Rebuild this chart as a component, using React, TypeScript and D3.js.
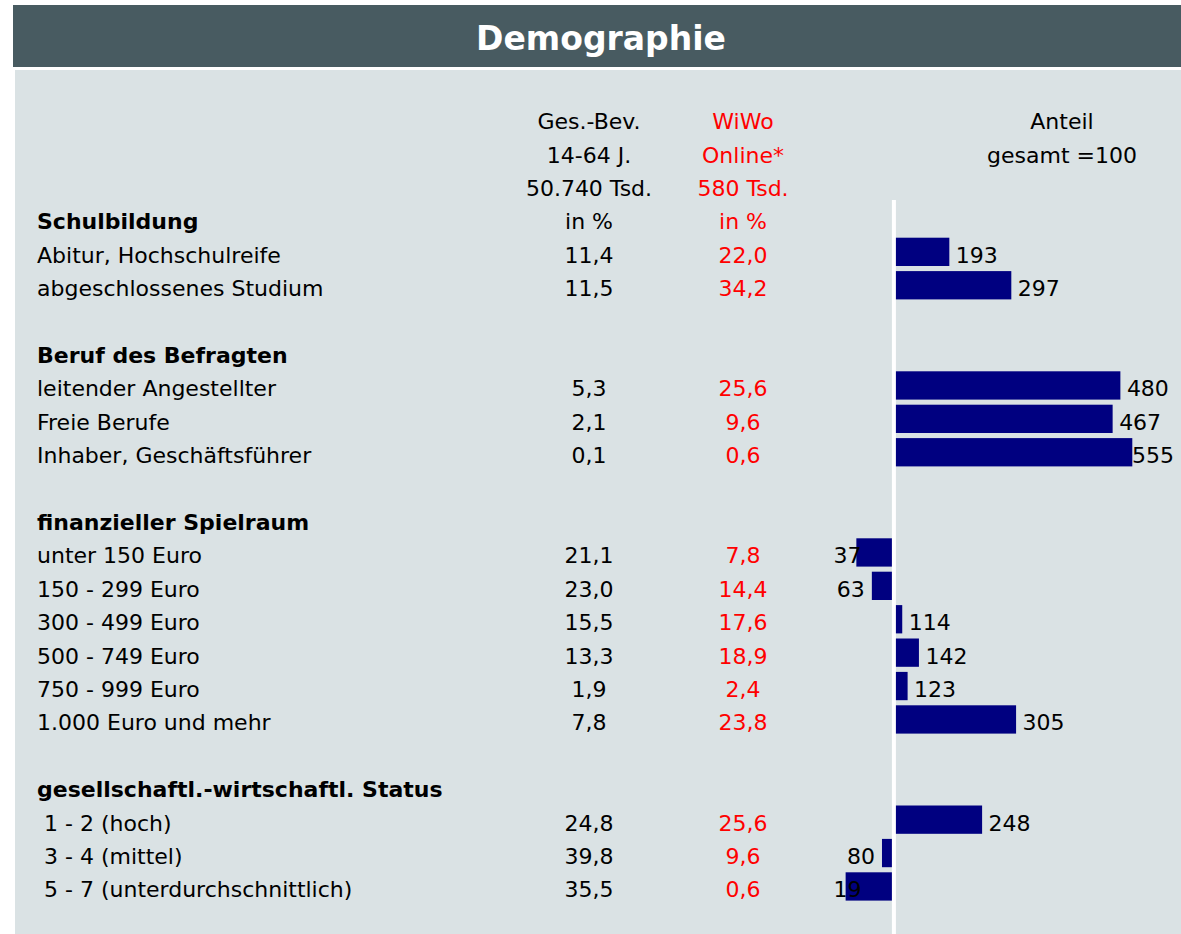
import React from "react";
import * as d3 from "d3";

const title = "Demographie";
const headerGes = ["Ges.-Bev.", "14-64 J.", "50.740 Tsd.", "in %"];
const headerWiwo = ["WiWo", "Online*", "580 Tsd.", "in %"];
const headerAnteil = ["Anteil", "gesamt =100"];

const groups = [
  "Schulbildung",
  "Beruf des Befragten",
  "finanzieller Spielraum",
  "gesellschaftl.-wirtschaftl. Status",
];
const categories = [
  "Abitur, Hochschulreife",
  "abgeschlossenes Studium",
  "leitender Angestellter",
  "Freie Berufe",
  "Inhaber, Geschäftsführer",
  "unter 150 Euro",
  "150 - 299 Euro",
  "300 - 499 Euro",
  "500 - 749 Euro",
  "750 - 999 Euro",
  "1.000 Euro und mehr",
  " 1 - 2 (hoch)",
  " 3 - 4 (mittel)",
  " 5 - 7 (unterdurchschnittlich)",
];
const categoryGroup = [0, 0, 1, 1, 1, 2, 2, 2, 2, 2, 2, 3, 3, 3];
const gesBev = ["11,4", "11,5", "5,3", "2,1", "0,1", "21,1", "23,0", "15,5", "13,3", "1,9", "7,8", "24,8", "39,8", "35,5"];
const wiwo = ["22,0", "34,2", "25,6", "9,6", "0,6", "7,8", "14,4", "17,6", "18,9", "2,4", "23,8", "25,6", "9,6", "0,6"];
const anteil = [193, 297, 480, 467, 555, 37, 63, 114, 142, 123, 305, 248, 80, 19];
const baseline = 100;
const axisDomain = [0, 500];

type Row = { kind: "group" | "item"; text: string; idx: number };

export default function App() {
  const W = 1181;
  const H = 934;
  const font = "'DejaVu Sans', Tahoma, Verdana, sans-serif";
  const fs = 22;

  const rows: Row[] = [];
  groups.forEach((g, gi) => {
    if (gi > 0) rows.push({ kind: "group", text: "", idx: -1 });
    rows.push({ kind: "group", text: g, idx: gi });
    categories.forEach((c, ci) => {
      if (categoryGroup[ci] === gi) rows.push({ kind: "item", text: c, idx: ci });
    });
  });

  const y = d3.scaleLinear().domain([0, rows.length - 1]).range([229.3, 229.3 + 33.4 * (rows.length - 1)]);
  const x = d3.scaleLinear().domain(axisDomain).range([834.3, 1132.3]).clamp(true);
  const x0 = x(baseline);
  const plotLeft = 835;
  const plotRight = 1172;
  const digitW = 13.3;

  const colGes = 589;
  const colWiwo = 743;
  const colAnteil = 1062;

  return (
    <svg
      width={W}
      height={H}
      style={{ position: "absolute", left: 0, top: 0, fontFamily: font }}
    >
      <rect x={0} y={0} width={W} height={H} fill="#ffffff" />
      <rect x={13} y={5} width={W - 13} height={62} fill="#485b61" />
      <text x={601} y={50} textAnchor="middle" fill="#ffffff" fontSize={33} fontWeight="bold">
        {title}
      </text>
      <rect x={15} y={70} width={W - 15} height={H - 70} fill="#dae2e4" />

      {headerGes.map((t, i) => (
        <text key={"hg" + i} x={colGes} y={y(i - 3)} textAnchor="middle" fontSize={fs} fill="#000">
          {t}
        </text>
      ))}
      {headerWiwo.map((t, i) => (
        <text key={"hw" + i} x={colWiwo} y={y(i - 3)} textAnchor="middle" fontSize={fs} fill="#ff0000">
          {t}
        </text>
      ))}
      {headerAnteil.map((t, i) => (
        <text key={"ha" + i} x={colAnteil} y={y(i - 3)} textAnchor="middle" fontSize={fs} fill="#000">
          {t}
        </text>
      ))}

      {rows.map((r, ri) => {
        if (r.kind === "group") {
          return r.text ? (
            <text key={"r" + ri} x={37} y={y(ri)} fontSize={fs} fontWeight="bold" fill="#000">
              {r.text}
            </text>
          ) : null;
        }
        const i = r.idx;
        const v = anteil[i];
        const xv = x(v);
        const bx = Math.min(xv, x0);
        const bw = Math.abs(xv - x0);
        const label = String(v);
        const lw = label.length * digitW;
        let lx: number;
        let anchor: "start" | "end";
        if (v >= baseline) {
          lx = Math.min(xv + 6.5, plotRight - lw);
          anchor = "start";
        } else {
          lx = Math.max(xv - 7, plotLeft + lw);
          anchor = "end";
        }
        return (
          <g key={"r" + ri}>
            <text x={37} y={y(ri)} fontSize={fs} fill="#000" style={{ whiteSpace: "pre" }}>
              {r.text}
            </text>
            <text x={colGes} y={y(ri)} textAnchor="middle" fontSize={fs} fill="#000">
              {gesBev[i]}
            </text>
            <text x={colWiwo} y={y(ri)} textAnchor="middle" fontSize={fs} fill="#ff0000">
              {wiwo[i]}
            </text>
            <rect x={bx} y={y(ri) - 25} width={bw} height={28.3} fill="#000080" />
            <text x={lx} y={y(ri)} textAnchor={anchor} fontSize={fs} fill="#000">
              {label}
            </text>
          </g>
        );
      })}

      <rect x={x0 - 2} y={200} width={4} height={H - 200} fill="#ffffff" />
    </svg>
  );
}
